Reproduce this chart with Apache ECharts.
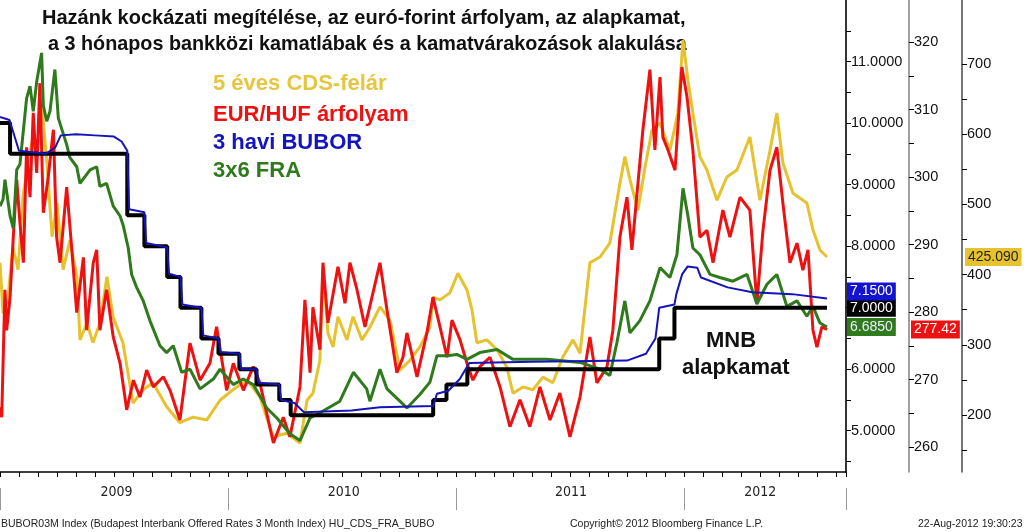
<!DOCTYPE html>
<html><head><meta charset="utf-8">
<script src="https://cdn.jsdelivr.net/npm/echarts@6/dist/echarts.min.js"></script>
<style>html,body{margin:0;padding:0;background:#fff}#c{width:1024px;height:532px}</style>
</head><body><div id="c"></div>
<script>
// x = months since 1 Jan 2009
const yearLabels = {6:'2009',18:'2010',30:'2011',40:'2012'};
const mnbBase = [[0,10],[0.53,9.5],[6.7,8.5],[7.6,8.0],[8.8,7.5],[9.5,7.0],[10.6,6.5],[11.5,6.25],[12.6,6.0],[13.5,5.75],[14.7,5.5],[15.3,5.25],[22.8,5.5],[23.5,5.75],[24.6,6.0],[34.7,6.5],[35.5,7.0],[43.53,7.0]];
const bubor = [[0,10.1],[0.5,10.05],[1.0,9.55],[2.4,9.5],[2.9,9.6],[3.2,9.8],[4,9.82],[5,9.8],[6,9.78],[6.4,9.7],[6.7,9.55],[6.8,8.6],[7.6,8.55],[7.7,8.05],[8.8,7.98],[8.9,7.55],[9.5,7.5],[9.6,7.05],[10.6,7.0],[10.7,6.55],[11.5,6.5],[11.6,6.28],[12.6,6.25],[12.7,6.0],[13.5,6.0],[13.6,5.78],[14.7,5.75],[14.8,5.5],[15.5,5.45],[16,5.3],[18.5,5.33],[20,5.38],[22.8,5.4],[23,5.6],[23.6,5.65],[24.2,5.84],[24.7,6.1],[28,6.12],[33,6.14],[34,6.25],[34.5,6.5],[34.7,7.0],[35.5,7.05],[35.6,7.22],[35.9,7.54],[36.2,7.67],[36.7,7.65],[36.9,7.49],[38.3,7.33],[39.6,7.25],[41.7,7.22],[43.53,7.15]];
const fra = [[0,8.65],[0.16,8.76],[0.26,9.08],[0.53,8.49],[0.7,8.29],[0.88,9.24],[1.05,9.33],[1.4,10.4],[1.58,10.6],[1.75,10.19],[1.93,10.67],[2.19,11.14],[2.28,10.29],[2.46,10.03],[2.63,10.19],[2.89,10.87],[3.07,10.08],[3.51,9.65],[3.68,9.44],[4.04,9.29],[4.21,9.02],[4.74,9.24],[5.09,9.29],[5.26,8.97],[5.61,9.02],[5.96,8.65],[6.32,8.49],[6.49,8.33],[6.75,7.97],[6.93,7.54],[7.19,7.33],[7.54,7.11],[7.89,6.79],[8.42,6.38],[8.77,6.27],[9.12,6.38],[9.56,5.95],[10,6.0],[10.53,5.68],[11.23,5.84],[11.58,6.0],[12.28,5.75],[12.8,5.84],[13.33,5.75],[14.04,5.37],[14.56,5.21],[15.26,4.95],[15.79,4.84],[16.32,5.21],[17,5.32],[17.89,5.48],[18.6,5.95],[19.3,5.68],[19.47,5.48],[20,6.0],[20.37,5.68],[21.05,5.48],[21.42,5.37],[22.1,5.59],[22.63,5.79],[23,6.22],[23.53,6.22],[24.05,6.24],[24.58,6.16],[25.26,6.27],[26.16,6.32],[27,6.16],[28.79,6.16],[30.53,6.11],[31.58,6.0],[32.1,5.9],[32.47,6.43],[32.89,7.11],[33.16,6.59],[33.68,6.79],[34.21,7.11],[34.74,7.65],[35.26,7.49],[35.63,7.86],[35.95,8.94],[36.21,8.49],[36.47,7.97],[36.84,7.86],[37.37,7.54],[37.89,7.49],[38.58,7.43],[39.32,7.54],[39.84,7.06],[40.37,7.38],[40.89,7.54],[41.42,7.02],[41.95,7.11],[42.47,6.86],[42.79,7.02],[43.16,6.75],[43.53,6.685]];
const eurhuf = [[0,265.9],[0.09,264.4],[0.26,283.3],[0.35,277.3],[0.53,282.2],[0.7,291.1],[0.88,299.6],[1.05,293.2],[1.23,287.3],[1.4,304.4],[1.58,297.0],[1.75,309.5],[1.93,300.6],[2.1,313.9],[2.28,294.7],[2.54,300.0],[2.81,307.0],[2.98,291.1],[3.16,287.3],[3.51,298.5],[3.77,289.6],[4.04,279.9],[4.39,288.1],[4.56,277.3],[4.91,287.3],[5.09,289.2],[5.26,277.3],[5.61,283.3],[5.96,276.3],[6.32,272.4],[6.67,265.5],[7.02,269.9],[7.37,267.4],[7.72,271.4],[8.07,268.9],[8.6,270.4],[8.95,268.4],[9.47,264.0],[10,275.4],[10.53,269.9],[11.05,272.4],[11.4,277.8],[11.93,268.4],[12.28,272.4],[12.81,268.4],[13.33,271.9],[13.68,269.5],[14.39,260.6],[14.91,264.4],[15.26,261.5],[15.79,268.9],[16.05,281.8],[16.32,271.0],[16.47,280.7],[16.84,274.4],[17.0,287.3],[17.26,278.4],[17.79,286.7],[18.16,281.3],[18.42,287.3],[18.79,283.3],[19.21,277.8],[19.58,282.2],[20,287.3],[20.37,280.3],[20.89,271.0],[21.21,273.3],[21.42,276.9],[21.95,270.4],[22.47,276.9],[22.79,282.2],[23.16,277.8],[23.53,273.3],[23.79,278.8],[24.21,275.9],[24.58,272.4],[24.89,269.9],[25.26,271.9],[25.79,273.3],[26.32,268.9],[26.84,263.0],[27.37,267.0],[27.89,263.0],[28.42,268.9],[28.95,264.0],[29.47,268.0],[30,261.5],[30.53,267.4],[31.05,276.3],[31.42,269.5],[31.95,271.9],[32.26,277.3],[32.63,291.1],[33.0,297.0],[33.26,289.2],[33.58,299.1],[33.84,307.0],[34.21,315.9],[34.47,304.0],[34.74,314.8],[34.89,305.9],[35.16,304.0],[35.53,301.0],[35.89,316.3],[36.16,311.9],[36.47,304.0],[36.84,291.1],[37.21,292.1],[37.53,287.3],[38.05,295.1],[38.42,291.1],[38.95,297.0],[39.47,295.1],[39.84,281.3],[40.16,292.1],[40.53,301.0],[40.89,304.4],[41.21,296.1],[41.58,287.3],[41.95,290.2],[42.26,286.2],[42.53,289.2],[42.79,277.3],[43.0,274.8],[43.26,277.8],[43.53,277.42]];
const cds = [[0,417],[0.16,345],[0.42,368],[0.68,439],[0.95,407],[1.21,511],[1.47,559],[1.74,596],[1.95,568],[2.21,639],[2.47,559],[2.74,454],[3,502],[3.32,407],[3.68,449],[4.05,397],[4.21,307],[4.58,331],[4.89,303],[5.26,331],[5.63,397],[5.95,340],[6.47,303],[7,217],[7.53,236],[8.05,246],[8.79,211],[9.47,189],[10.16,197],[10.89,193],[11.58,221],[12.26,236],[13,250],[13.68,226],[14.37,169],[15.1,174],[15.79,160],[16.16,221],[16.47,231],[16.84,278],[17,411],[17.26,317],[17.53,297],[17.79,340],[18.26,307],[18.58,340],[19.05,307],[19.47,325],[20,354],[20.53,335],[21.05,264],[21.58,278],[22.1,297],[22.63,325],[22.79,368],[23.16,364],[23.68,374],[24.1,402],[24.58,378],[24.84,350],[25.1,303],[25.63,307],[26.16,293],[26.68,268],[27,231],[27.53,240],[28.05,236],[28.58,254],[29.1,246],[29.63,283],[30.16,307],[30.53,288],[31.05,417],[31.58,425],[32.1,445],[32.63,530],[32.89,568],[33.16,535],[33.58,492],[33.95,553],[34.32,606],[34.74,616],[35.26,577],[35.68,630],[35.95,734],[36.21,677],[36.47,630],[36.84,568],[37.21,549],[37.74,506],[38.26,539],[38.79,549],[39.47,596],[40,506],[40.53,577],[40.89,630],[41.21,559],[41.74,516],[42.47,502],[42.79,464],[43.16,435],[43.53,425.09]];

const FONT = 'Liberation Sans';
const XMAX = 44.53;
const c = echarts.init(document.getElementById('c'));
const G = {left:0,right:178,top:0,bottom:60};
const hiddenX = i => ({type:'value',gridIndex:i,min:0,max:XMAX,show:false});
const dummyY = (i, off, col) => ({type:'value',gridIndex:i,position:'right',offset:off,min:0,max:1,axisLine:{show:true,onZero:false,lineStyle:{color:col,width:1.6}},axisTick:{show:false},axisLabel:{show:false},splitLine:{show:false}});
const hiddenY = i => ({type:'value',gridIndex:i,min:0,max:1,show:false});
const tag = (bg, fg, dist, fmt) => ({show:true,distance:dist,formatter:p=>fmt(p.value[1]),backgroundColor:bg,color:fg,padding:[2,3],fontSize:14,fontFamily:FONT});
const lbl = {margin:5,fontSize:14.5,color:'#111',fontFamily:FONT,showMaxLabel:false};
const tick = {length:5,lineStyle:{color:'#000'}};
c.setOption({
  animation:false,
  grid:[
    {left:0,right:178,top:-11,bottom:70.5},
    {left:0,right:178,top:8.25,bottom:85},
    {left:0,right:178,top:28.9,bottom:81.9},
    G,G,G,G,G,G
  ],
  xAxis:[hiddenX(0),hiddenX(1),hiddenX(2),
    {type:'value',gridIndex:3,position:'bottom',min:0,max:XMAX,interval:1,axisLine:{onZero:false,lineStyle:{color:'#000',width:1.5}},axisTick:{length:5,lineStyle:{color:'#000'}},axisLabel:{show:false},splitLine:{show:false}},
    {type:'value',gridIndex:4,position:'bottom',min:0,max:XMAX,interval:1,axisLine:{show:false,onZero:false},axisTick:{show:false},splitLine:{show:false},
      axisLabel:{interval:0,margin:13,fontSize:14,color:'#222',fontFamily:'DejaVu Sans Condensed',hideOverlap:false,showMaxLabel:false,formatter:v=>yearLabels[v]||''}},
    {type:'value',gridIndex:5,position:'bottom',min:0,max:XMAX,interval:12,offset:16,axisLine:{show:false,onZero:false},axisTick:{length:22,lineStyle:{color:'#999'}},axisLabel:{show:false},splitLine:{show:false}},
    hiddenX(6),hiddenX(7),hiddenX(8)
  ],
  yAxis:[
    {type:'value',gridIndex:0,position:'right',min:4.5,max:12,interval:0.5,axisLine:{show:false,onZero:false},axisTick:tick,splitLine:{show:false},
      axisLabel:Object.assign({formatter:v=>Number.isInteger(v)?v.toFixed(4):''},lbl)},
    {type:'value',gridIndex:1,position:'right',offset:63,min:260,max:325,interval:5,axisLine:{show:false,onZero:false},axisTick:tick,splitLine:{show:false},
      axisLabel:Object.assign({formatter:v=>v%10===0?String(v):''},lbl)},
    {type:'value',gridIndex:2,position:'right',offset:116,min:150,max:750,interval:50,axisLine:{show:false,onZero:false},axisTick:tick,splitLine:{show:false},
      axisLabel:Object.assign({formatter:v=>v%100===0?String(v):''},lbl)},
    hiddenY(3),hiddenY(4),hiddenY(5),
    dummyY(6,0,'#000'),dummyY(7,63,'#888'),dummyY(8,116,'#555')
  ],
  series:[
    {name:'CDS',type:'line',xAxisIndex:2,yAxisIndex:2,data:cds,symbol:'none',clip:false,lineStyle:{color:'#e6c22e',width:3},itemStyle:{color:'#e6c22e'},
      endLabel:tag('#e6c22e','#222',138,v=>v.toFixed(3))},
    {name:'EURHUF',type:'line',xAxisIndex:1,yAxisIndex:1,data:eurhuf,symbol:'none',clip:false,lineStyle:{color:'#ee1111',width:3},itemStyle:{color:'#ee1111'},
      endLabel:tag('#ee1111','#fff',84,v=>v.toFixed(2))},
    {name:'FRA',type:'line',xAxisIndex:0,yAxisIndex:0,data:fra,symbol:'none',clip:false,lineStyle:{color:'#2f7a1c',width:3},itemStyle:{color:'#2f7a1c'},
      endLabel:tag('#2f7a1c','#eef',20,v=>v.toFixed(4))},
    {name:'MNB',type:'line',xAxisIndex:0,yAxisIndex:0,data:mnbBase,step:'end',symbol:'none',clip:false,lineStyle:{color:'#000',width:4},itemStyle:{color:'#000'},
      endLabel:tag('#000','#fff',20,v=>v.toFixed(4))},
    {name:'BUBOR',type:'line',xAxisIndex:0,yAxisIndex:0,data:bubor,symbol:'none',clip:false,lineStyle:{color:'#1414b8',width:2},itemStyle:{color:'#1414b8'},
      endLabel:Object.assign(tag('#1414d0','#fff',20,v=>v.toFixed(4)),{offset:[0,-7]})}
  ],
  graphic:[
    {type:'text',left:42,top:8,style:{text:'Hazánk kockázati megítélése, az euró-forint árfolyam, az alapkamat,',font:'bold 20px "Liberation Sans"',fill:'#111'}},
    {type:'text',left:48,top:35,style:{text:'a 3 hónapos bankközi kamatlábak és a kamatvárakozások alakulása',font:'bold 19.8px "Liberation Sans"',fill:'#111'}},
    {type:'text',left:213,top:73,style:{text:'5 éves CDS-felár',font:'bold 22px "Liberation Sans"',fill:'#e6c640'}},
    {type:'text',left:213,top:104,style:{text:'EUR/HUF árfolyam',font:'bold 22px "Liberation Sans"',fill:'#ee1111'}},
    {type:'text',left:213,top:132,style:{text:'3 havi BUBOR',font:'bold 22px "Liberation Sans"',fill:'#1414c0'}},
    {type:'text',left:213,top:160,style:{text:'3x6 FRA',font:'bold 22px "Liberation Sans"',fill:'#2f7a1c'}},
    {type:'text',left:706,top:330,style:{text:'MNB',font:'bold 22px "Liberation Sans"',fill:'#111'}},
    {type:'text',left:682,top:357,style:{text:'alapkamat',font:'bold 22px "Liberation Sans"',fill:'#111'}},
    {type:'text',left:1,top:519,style:{text:'BUBOR03M Index (Budapest Interbank Offered Rates 3 Month Index) HU_CDS_FRA_BUBO',font:'10.5px "Liberation Sans"',fill:'#222'}},
    {type:'text',left:570,top:519,style:{text:'Copyright© 2012 Bloomberg Finance L.P.',font:'10.5px "Liberation Sans"',fill:'#222'}},
    {type:'text',left:918,top:519,style:{text:'22-Aug-2012 19:30:23',font:'10.5px "Liberation Sans"',fill:'#222'}}
  ]
});
</script></body></html>
